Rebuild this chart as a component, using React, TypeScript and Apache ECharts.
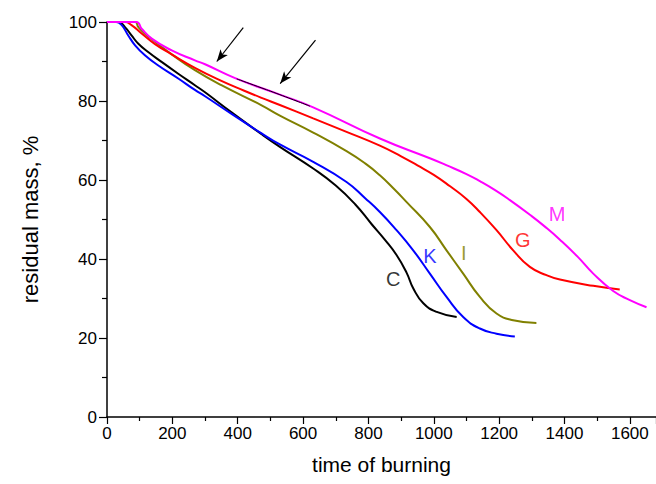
import React, { useEffect, useRef } from "react";
import * as echarts from "echarts";

// time of burning (x) and residual mass, % (y) for each sample
const seriesC: number[][] = [[0,100],[35,100],[55,98.7],[75,96.6],[96,94.5],[126,92.4],[167,89.9],[218,86.9],[269,84],[300,82.2],[380,77.2],[473,71.6],[529,68.4],[631,62.9],[700,58.6],[760,53.8],[810,48.8],[850,44.9],[886,41],[917,36.5],[937,32.6],[968,28.8],[1009,26.6],[1070,25.3]];
const seriesK: number[][] = [[0,100],[28,100],[45,99.2],[65,96.6],[86,94.1],[116,91.6],[157,89],[218,85.7],[269,82.8],[300,81.2],[380,76.8],[473,71.8],[529,69],[631,64.6],[733,59.5],[790,55.4],[835,51.9],[886,47.3],[937,42.2],[988,36.3],[1039,30.4],[1090,25.3],[1141,22.4],[1192,21.1],[1248,20.4]];
const seriesI: number[][] = [[0,100],[86,100],[96,98.7],[116,97],[147,95],[198,91.8],[269,87.8],[350,84],[473,78.9],[529,76.3],[631,72],[733,67.3],[790,64.2],[835,61.2],[880,57.6],[917,54.4],[988,48.1],[1039,42.2],[1090,36.3],[1141,30.4],[1192,26.2],[1243,24.5],[1314,23.8]];
const seriesG: number[][] = [[0,100],[55,100],[75,99.2],[106,97.1],[147,94.4],[198,91.8],[269,88.4],[350,85.1],[420,82.6],[473,80.8],[529,79],[631,75.6],[733,72.2],[835,68.7],[900,66],[950,63.7],[1000,61.3],[1050,58.4],[1100,55.2],[1141,51.9],[1192,47.3],[1243,42.2],[1294,38],[1345,35.9],[1386,34.8],[1488,33.2],[1569,32.3]];
const seriesM: number[][] = [[0,100],[90,100],[106,98.3],[137,95.8],[198,92.8],[269,90.3],[300,89.3],[392,85.8],[529,81.6],[631,78.4],[835,70.5],[988,65.5],[1040,63.7],[1100,61.5],[1141,59.7],[1190,57.3],[1233,54.9],[1294,51.2],[1340,48.2],[1386,44.9],[1440,40.6],[1488,36.3],[1549,31.9],[1600,29.6],[1651,27.8]];
// highlighted black segment lying on curve M
const segmentOnM: number[][] = [[397,85.6],[460,83.7],[529,81.6],[621,78.7]];
// arrows: [start, end] in data coordinates
const arrows: number[][][] = [
  [[417, 98.6], [336, 90]],
  [[638, 95.4], [530, 84.4]],
];
// curve labels
const labelNames = ["C", "K", "I", "G", "M"];
const labelX = [876, 988, 1092, 1272, 1377];
const labelY = [35, 40.7, 41.4, 44.9, 51.4];
const labelColors = ["#000000", "#0000ff", "#808000", "#ff0000", "#ff00ff"];

const FONT = "Liberation Sans, Arial, sans-serif";

export default function App() {
  const ref = useRef<HTMLDivElement>(null);
  useEffect(() => {
    if (!ref.current) return;
    const chart = echarts.init(ref.current, undefined, { renderer: "svg" });
    const line = (name: string, data: number[][], color: string, width = 2, z = 2) => ({
      name,
      type: "line",
      data,
      showSymbol: false,
      symbol: "none",
      smooth: 0.5,
      z,
      lineStyle: { color, width },
      itemStyle: { color },
    });
    chart.setOption({
      animation: false,
      backgroundColor: "#ffffff",
      grid: { left: 107, top: 22, right: 0, bottom: 67 },
      xAxis: {
        type: "value",
        min: 0,
        max: 1680,
        interval: 200,
        name: "time of burning",
        nameLocation: "middle",
        nameGap: 37,
        nameTextStyle: { fontFamily: FONT, fontSize: 21, color: "#000" },
        axisLine: { lineStyle: { color: "#000", width: 1.5 } },
        axisTick: { show: true, inside: false, length: 7, lineStyle: { color: "#000", width: 1.2 } },
        minorTick: { show: true, splitNumber: 2, length: 4, lineStyle: { color: "#000", width: 1.2 } },
        axisLabel: {
          fontFamily: FONT,
          fontSize: 17,
          color: "#000",
          margin: 8,
          showMaxLabel: false,
          formatter: (v: number) => String(v),
        },
        splitLine: { show: false },
        minorSplitLine: { show: false },
      },
      yAxis: {
        type: "value",
        min: 0,
        max: 100,
        interval: 20,
        name: "residual mass, %",
        nameLocation: "middle",
        nameGap: 66,
        nameTextStyle: { fontFamily: FONT, fontSize: 22, color: "#000" },
        axisLine: { show: true, lineStyle: { color: "#000", width: 1.5 } },
        axisTick: { show: true, inside: false, length: 8, lineStyle: { color: "#000", width: 1.2 } },
        minorTick: { show: true, splitNumber: 2, length: 5, lineStyle: { color: "#000", width: 1.2 } },
        axisLabel: {
          fontFamily: FONT,
          fontSize: 17,
          color: "#000",
          margin: 10,
          formatter: (v: number) => String(v),
        },
        splitLine: { show: false },
        minorSplitLine: { show: false },
      },
      series: [
        line("C", seriesC, "#000000"),
        line("K", seriesK, "#0000ff"),
        line("I", seriesI, "#808000"),
        line("G", seriesG, "#ff0000"),
        line("M", seriesM, "#ff00ff"),
        {
          ...line("segment", segmentOnM, "#000000", 1, 5),
          markLine: {
            silent: true,
            symbol: ["none", "arrow"],
            symbolSize: [7, 12],
            label: { show: false },
            lineStyle: { color: "#000", width: 1.2, type: "solid" },
            data: arrows.map(([a, b]) => [{ coord: a }, { coord: b }]),
          },
        },
        {
          type: "scatter",
          symbolSize: 0,
          z: 6,
          data: labelNames.map((n, i) => ({
            value: [labelX[i], labelY[i]],
            name: n,
            label: {
              show: true,
              position: "inside",
              formatter: n,
              color: labelColors[i],
              fontFamily: FONT,
              fontSize: 20,
            },
          })),
        },
      ],
    });
    return () => chart.dispose();
  }, []);
  return (
    <div
      ref={ref}
      style={{ position: "fixed", left: 0, top: 0, width: 656, height: 484 }}
    />
  );
}
